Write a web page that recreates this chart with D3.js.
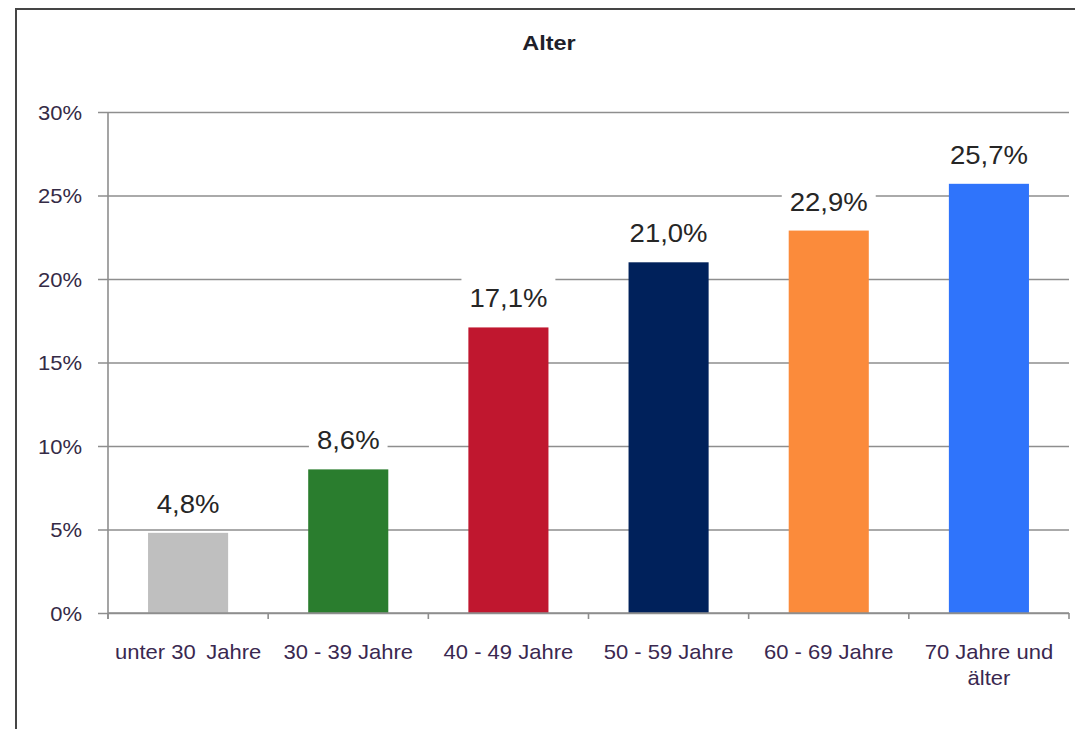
<!DOCTYPE html>
<html>
<head>
<meta charset="utf-8">
<script src="https://cdn.jsdelivr.net/npm/d3@7"></script>
<style>
  body { margin: 0; background: #fff; }
  svg text { font-family: "Liberation Sans", Arial, sans-serif; }
</style>
</head>
<body>
<svg id="chart"></svg>
<script>
// Altersverteilung, values
var categories = ["unter 30 Jahre", "30 - 39 Jahre", "40 - 49 Jahre", "50 - 59 Jahre", "60 - 69 Jahre", "70 Jahre und älter"];
var labelLines = [["unter 30\u2009 Jahre"], ["30 - 39 Jahre"], ["40 - 49 Jahre"], ["50 - 59 Jahre"], ["60 - 69 Jahre"], ["70 Jahre und", "älter"]];
var values = [4.8, 8.6, 17.1, 21.0, 22.9, 25.7];
var barColors = ["#bfbfbf", "#2a7d2e", "#c0172f", "#00215b", "#fb8b3b", "#2f74fb"];
var yTicks = [0, 5, 10, 15, 20, 25, 30];
var title = "Alter";

var svgWidth = 1075, svgHeight = 729;
var margin = { top: 112, right: 6, bottom: 116, left: 108 };
var width = svgWidth - margin.left - margin.right;
var height = svgHeight - margin.top - margin.bottom;
var sx = 1.1; // picture is a bit wider than Arial

var svg = d3.select("#chart")
  .attr("width", svgWidth)
  .attr("height", svgHeight);

// outer frame of the chart object (only top and left visible)
svg.append("rect")
  .attr("x", 16).attr("y", 9)
  .attr("width", 1200).attr("height", 900)
  .attr("fill", "none")
  .attr("stroke", "#454545")
  .attr("stroke-width", 2);

svg.append("text")
  .attr("x", 549).attr("y", 50)
  .attr("text-anchor", "middle")
  .attr("font-size", 21)
  .attr("font-weight", "bold")
  .attr("fill", "#1f1f2a")
  .attr("transform", "translate(549,50) scale(1.12,1) translate(-549,-50)")
  .text(title);

var g = svg.append("g")
  .attr("transform", "translate(" + margin.left + "," + margin.top + ")");

var x = d3.scaleBand()
  .domain(categories)
  .range([0, width])
  .paddingInner(0.5)
  .paddingOuter(0.25);

var y = d3.scaleLinear()
  .domain([0, 30])
  .range([height, 0]);

// gridlines + y ticks
var yAxis = g.append("g")
  .call(d3.axisLeft(y).tickValues(yTicks).tickSize(-width).tickFormat(function(d) { return d + "%"; }));
yAxis.select(".domain").remove();
yAxis.selectAll(".tick line")
  .attr("x1", -10)
  .attr("stroke", "#8e8e8e")
  .attr("stroke-width", 1.6);
yAxis.selectAll(".tick text")
  .attr("x", null)
  .attr("dy", null)
  .attr("dominant-baseline", "central")
  .attr("transform", "translate(-26,0) scale(" + sx + ",1)")
  .attr("font-size", 20)
  .attr("fill", "#352b46");

// y axis line
g.append("line")
  .attr("x1", 0).attr("x2", 0)
  .attr("y1", 0).attr("y2", height + 6)
  .attr("stroke", "#8e8e8e")
  .attr("stroke-width", 1.6);

// bars
g.selectAll(".bar")
  .data(values)
  .enter().append("rect")
  .attr("class", "bar")
  .attr("x", function(d, i) { return x(categories[i]); })
  .attr("y", function(d) { return y(d); })
  .attr("width", x.bandwidth())
  .attr("height", function(d) { return height - y(d); })
  .attr("fill", function(d, i) { return barColors[i]; });

// x axis line and ticks at category borders
g.append("line")
  .attr("x1", 0).attr("x2", width)
  .attr("y1", height).attr("y2", height)
  .attr("stroke", "#8e8e8e")
  .attr("stroke-width", 1.6);

var borders = d3.range(categories.length + 1);
g.selectAll(".xtick")
  .data(borders)
  .enter().append("line")
  .attr("class", "xtick")
  .attr("x1", function(d) { return d * x.step(); })
  .attr("x2", function(d) { return d * x.step(); })
  .attr("y1", height).attr("y2", height + 6)
  .attr("stroke", "#8e8e8e")
  .attr("stroke-width", 1.6);

// category labels
var xl = g.selectAll(".xlabel")
  .data(categories)
  .enter().append("text")
  .attr("class", "xlabel")
  .attr("text-anchor", "middle")
  .attr("font-size", 20)
  .attr("fill", "#3a2850")
  .attr("transform", function(d) {
    return "translate(" + (x(d) + x.bandwidth() / 2) + "," + (height + 46) + ") scale(" + sx + ",1)";
  });
xl.selectAll("tspan")
  .data(function(d, i) { return labelLines[i]; })
  .enter().append("tspan")
  .attr("x", 0)
  .attr("dy", function(d, j) { return j === 0 ? 0 : 26; })
  .text(function(d) { return d; });

// value labels with white background
var vl = g.selectAll(".vlabel")
  .data(values)
  .enter().append("g")
  .attr("class", "vlabel")
  .attr("transform", function(d, i) {
    return "translate(" + (x(categories[i]) + x.bandwidth() / 2) + "," + (y(d) - 20) + ")";
  });
vl.append("rect")
  .attr("fill", "#fff");
vl.append("text")
  .attr("text-anchor", "middle")
  .attr("font-size", 25)
  .attr("fill", "#262626")
  .attr("transform", "scale(" + sx + ",1)")
  .text(function(d) { return d.toFixed(1).replace(".", ",") + "%"; });
vl.each(function() {
  var t = d3.select(this).select("text");
  var w = t.node().getBBox().width * sx;
  d3.select(this).select("rect")
    .attr("x", -w / 2 - 8)
    .attr("y", -32)
    .attr("width", w + 16)
    .attr("height", 40);
});
</script>
</body>
</html>
